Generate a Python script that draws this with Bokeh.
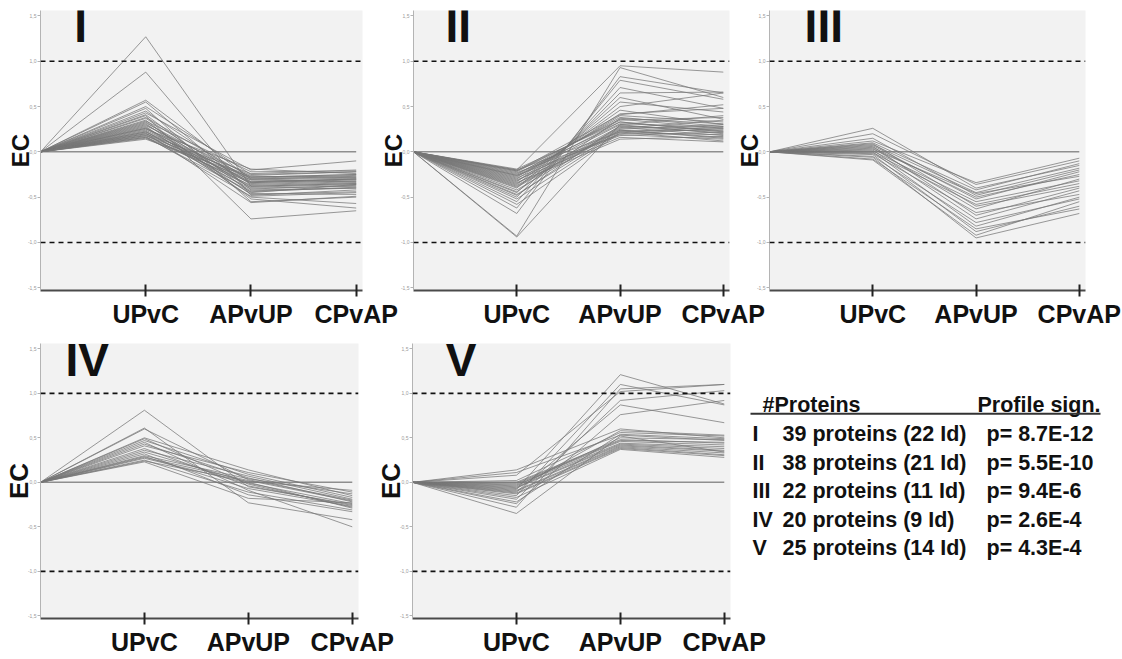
from bokeh.plotting import figure
from bokeh.layouts import row, column
from bokeh.models import Range1d, FixedTicker, Span, Label
from bokeh.core.properties import value
from bokeh.embed import file_html
from bokeh.resources import INLINE

FONT = "Liberation Sans"

# ---------------- data ----------------
steps = ["UPvC", "APvUP", "CPvAP"]
step_pos = [1, 2, 3]
origin_pos = 0
origin_value = 0.0
y_ticks = [-1.5, -1.0, -0.5, 0.0, 0.5, 1.0, 1.5]
y_tick_labels = ["-1,5", "-1,0", "-0,5", "0,0", "0,5", "1,0", "1,5"]
threshold = 1.0

# Cluster I (39 proteins)
c1_upvc = [1.27, 0.88, 0.57, 0.55, 0.50, 0.48, 0.45, 0.43, 0.41, 0.40, 0.38, 0.37, 0.35,
           0.34, 0.33, 0.32, 0.31, 0.30, 0.29, 0.28, 0.27, 0.26, 0.26, 0.25, 0.24, 0.23,
           0.22, 0.22, 0.21, 0.20, 0.20, 0.19, 0.18, 0.18, 0.17, 0.16, 0.16, 0.15, 0.14]
c1_apvup = [-0.38, -0.48, -0.30, -0.42, -0.25, -0.55, -0.33, -0.20, -0.45, -0.74, -0.28, -0.36, -0.52,
            -0.22, -0.40, -0.30, -0.47, -0.34, -0.26, -0.50, -0.38, -0.31, -0.43, -0.19, -0.35, -0.46,
            -0.29, -0.39, -0.56, -0.24, -0.33, -0.41, -0.27, -0.37, -0.49, -0.31, -0.44, -0.34, -0.28]
c1_cpvap = [-0.35, -0.42, -0.28, -0.40, -0.22, -0.50, -0.30, -0.10, -0.36, -0.65, -0.25, -0.33, -0.62,
            -0.21, -0.38, -0.27, -0.44, -0.31, -0.22, -0.57, -0.35, -0.29, -0.40, -0.24, -0.32, -0.47,
            -0.26, -0.36, -0.49, -0.20, -0.30, -0.37, -0.28, -0.34, -0.45, -0.33, -0.39, -0.30, -0.25]

# Cluster II (38 proteins)
c2_upvc = [-0.20, -0.93, -0.94, -0.68, -0.62, -0.55, -0.50, -0.45, -0.40, -0.36, -0.33, -0.30, -0.28,
           -0.25, -0.22, -0.21, -0.19, -0.24, -0.27, -0.32, -0.35, -0.38, -0.42, -0.47, -0.52, -0.58,
           -0.29, -0.23, -0.26, -0.31, -0.34, -0.37, -0.20, -0.44, -0.48, -0.21, -0.26, -0.39]
c2_apvup = [0.95, 0.93, 0.30, 0.83, 0.79, 0.71, 0.65, 0.60, 0.55, 0.50, 0.46, 0.42, 0.40,
            0.38, 0.36, 0.35, 0.33, 0.31, 0.30, 0.28, 0.27, 0.25, 0.24, 0.23, 0.22, 0.21,
            0.20, 0.19, 0.18, 0.16, 0.14, 0.26, 0.22, 0.37, 0.29, 0.41, 0.33, 0.24]
c2_cpvap = [0.88, 0.60, 0.40, 0.65, 0.58, 0.48, 0.66, 0.36, 0.44, 0.65, 0.30, 0.48, 0.33,
            0.28, 0.26, 0.38, 0.22, 0.27, 0.20, 0.25, 0.18, 0.30, 0.15, 0.24, 0.12, 0.19,
            0.26, 0.14, 0.22, 0.11, 0.17, 0.35, 0.28, 0.31, 0.21, 0.52, 0.23, 0.16]

# Cluster III (22 proteins)
c3_upvc = [0.26, 0.20, 0.15, 0.12, 0.10, 0.09, 0.08, 0.07, 0.06, 0.05, 0.04,
           0.03, 0.02, 0.01, 0.00, -0.01, -0.02, -0.03, -0.05, -0.06, -0.08, -0.09]
c3_apvup = [-0.40, -0.36, -0.48, -0.34, -0.42, -0.60, -0.45, -0.52, -0.70, -0.50, -0.63,
            -0.46, -0.74, -0.55, -0.82, -0.58, -0.67, -0.88, -0.78, -0.95, -0.85, -0.92]
c3_cpvap = [-0.15, -0.10, -0.20, -0.07, -0.13, -0.38, -0.18, -0.22, -0.40, -0.25, -0.30,
            -0.27, -0.43, -0.32, -0.50, -0.35, -0.47, -0.60, -0.52, -0.68, -0.63, -0.55]

# Cluster IV (20 proteins)
c4_upvc = [0.81, 0.61, 0.60, 0.50, 0.49, 0.47, 0.45, 0.43, 0.41, 0.38,
           0.36, 0.34, 0.32, 0.30, 0.29, 0.28, 0.27, 0.25, 0.24, 0.23]
c4_apvup = [-0.05, -0.23, 0.03, 0.14, -0.02, 0.09, -0.09, 0.05, 0.11, -0.04,
            0.07, 0.00, -0.14, 0.04, -0.07, 0.02, -0.01, -0.11, 0.01, -0.18]
c4_cpvap = [-0.25, -0.42, -0.20, -0.15, -0.28, -0.17, -0.50, -0.22, -0.11, -0.26,
            -0.19, -0.29, -0.33, -0.13, -0.27, -0.21, -0.24, -0.31, -0.09, -0.23]

# Cluster V (25 proteins)
c5_upvc = [0.14, 0.11, 0.08, 0.02, 0.00, -0.01, -0.02, -0.03, -0.04, -0.05, -0.06, -0.07, -0.08,
           -0.09, -0.10, -0.11, -0.12, -0.13, -0.15, -0.17, -0.19, -0.22, -0.24, -0.28, -0.35]
c5_apvup = [0.60, 0.53, 1.02, 0.56, 0.48, 0.47, 0.46, 0.44, 0.50, 0.43, 0.42, 0.58, 1.21,
            0.41, 0.40, 0.87, 0.39, 0.38, 1.10, 0.37, 0.92, 0.54, 0.76, 1.05, 0.52]
c5_cpvap = [0.50, 0.47, 1.10, 0.52, 0.44, 0.45, 0.42, 0.40, 0.48, 0.38, 0.36, 0.53, 0.88,
            0.35, 0.33, 0.67, 0.31, 0.30, 0.87, 0.28, 1.03, 0.49, 0.92, 1.10, 0.34]

cluster_names = ["I", "II", "III", "IV", "V"]
n_proteins = [39, 38, 22, 20, 25]
n_ids = [22, 21, 11, 9, 14]
p_values = ["8.7E-12", "5.5E-10", "9.4E-6", "2.6E-4", "4.3E-4"]

clusters = [
    (c1_upvc, c1_apvup, c1_cpvap),
    (c2_upvc, c2_apvup, c2_cpvap),
    (c3_upvc, c3_apvup, c3_cpvap),
    (c4_upvc, c4_apvup, c4_cpvap),
    (c5_upvc, c5_apvup, c5_cpvap),
]

# ---------------- layout ----------------
L, R = 48, 46
T1, FH1, B1 = 10, 282, 38
T2, FH2, B2 = 18, 279, 36
H1 = T1 + FH1 + B1
H2 = T2 + FH2 + B2


def panel(idx, frame_w, T, FH, B, right_border, margin_left, ec_size, title_x, title_y):
    up, ap, cp = clusters[idx]
    W = L + frame_w + right_border
    p = figure(width=W, height=T + FH + B,
               x_range=Range1d(0.0, 3.06), y_range=Range1d(-1.53, 1.56),
               output_backend="svg", toolbar_location=None, title_location=None,
               min_border_left=L, min_border_right=right_border,
               min_border_top=T, min_border_bottom=B,
               background_fill_color="#f2f2f2", border_fill_color=None,
               outline_line_color=None, margin=(0, 0, 0, margin_left))
    p.grid.visible = False

    xa = p.xaxis[0]
    xa.ticker = FixedTicker(ticks=step_pos, minor_ticks=[])
    xa.major_label_overrides = dict(zip(step_pos, steps))
    xa.major_label_text_font = FONT
    xa.major_label_text_font_size = "25px"
    xa.major_label_text_font_style = "bold"
    xa.major_label_text_color = "#111111"
    xa.major_label_standoff = 3
    xa.axis_line_color = "#4a4a4a"
    xa.axis_line_width = 2
    xa.major_tick_in = 6
    xa.major_tick_out = 6
    xa.major_tick_line_width = 2
    xa.major_tick_line_color = "#222222"
    xa.minor_tick_line_color = None

    ya = p.yaxis[0]
    ya.ticker = FixedTicker(ticks=y_ticks, minor_ticks=[])
    ya.major_label_overrides = dict(zip(y_ticks, y_tick_labels))
    ya.major_label_text_font = FONT
    ya.major_label_text_font_size = "5px"
    ya.major_label_text_color = "#9a9a9a"
    ya.major_label_standoff = 1
    ya.axis_line_color = "#b4b4b4"
    ya.axis_line_width = 1
    ya.major_tick_in = 0
    ya.major_tick_out = 3
    ya.major_tick_line_color = "#b4b4b4"
    ya.minor_tick_line_color = None
    ya.axis_label = "EC"
    ya.axis_label_text_font = FONT
    ya.axis_label_text_font_size = ec_size
    ya.axis_label_text_font_style = "bold"
    ya.axis_label_text_color = "#111111"
    ya.axis_label_standoff = -9

    for v in (threshold, -threshold):
        p.add_layout(Span(location=v, dimension="width", line_color="#111111",
                          line_dash="5 4", line_width=1.6))

    p.line(x=[origin_pos, step_pos[-1]], y=[origin_value, origin_value],
           line_color="#8e8e8e", line_width=1.5)

    xs = [[origin_pos] + step_pos for _ in up]
    ys = [[origin_value, u, a, c] for u, a, c in zip(up, ap, cp)]
    p.multi_line(xs=xs, ys=ys, line_color="#777777", line_alpha=0.75, line_width=1)

    p.add_layout(Label(x=title_x, y=title_y, text=cluster_names[idx],
                       text_font=FONT, text_font_size="46px", text_font_style="bold",
                       text_baseline="alphabetic", text_color="#111111"))
    return p


f1 = panel(0, 322, T1, FH1, B1, R, -8, "24px", 0.32, 1.39)
f2 = panel(1, 316, T1, FH1, B1, R, -43, "24px", 0.31, 1.39)
f3 = panel(2, 316, T1, FH1, B1, 36, -54, "24px", 0.34, 1.39)
f4 = panel(3, 318, T2, FH2, B2, R, -8, "26px", 0.24, 1.38)
f5 = panel(4, 318, T2, FH2, B2, R, -40, "26px", 0.32, 1.38)

# legend / table panel
W6 = 370
f6 = figure(width=W6, height=H2, x_range=Range1d(0, W6), y_range=Range1d(H2, 0),
            output_backend="svg", toolbar_location=None, title_location=None,
            x_axis_location=None, y_axis_location=None, min_border=0,
            background_fill_color=None, border_fill_color=None,
            outline_line_color=None, margin=(0, 0, 0, -31))
f6.grid.visible = False

txt = dict(text_font=value(FONT), text_font_size="21.5px", text_font_style="bold",
           text_color="#111111", text_baseline="middle")
f6.text(x=[17, 232], y=[75, 75], text=["#Proteins", "Profile sign."], **txt)
f6.line(x=[5, 355], y=[85, 85], line_color="#333333", line_width=2)

row_y = [110 + i * 34.5 for i in range(len(cluster_names))]
prot_txt = [f"{n} proteins {'(' + str(d) + ' Id)' if d >= 10 else ' (' + str(d) + ' Id)'}"
            for n, d in zip(n_proteins, n_ids)]
p_txt = [f"p= {pv}" for pv in p_values]
f6.text(x=[7] * len(row_y), y=row_y, text=cluster_names, **txt)
f6.text(x=[37] * len(row_y), y=row_y, text=prot_txt, **txt)
f6.text(x=[241] * len(row_y), y=row_y, text=p_txt, **txt)

top = row(f1, f2, f3)
bottom = row(f4, f5, f6, margin=(-5, 0, 0, 0))
layout = column(top, bottom)

open("out.html", "w").write(file_html(layout, INLINE))
